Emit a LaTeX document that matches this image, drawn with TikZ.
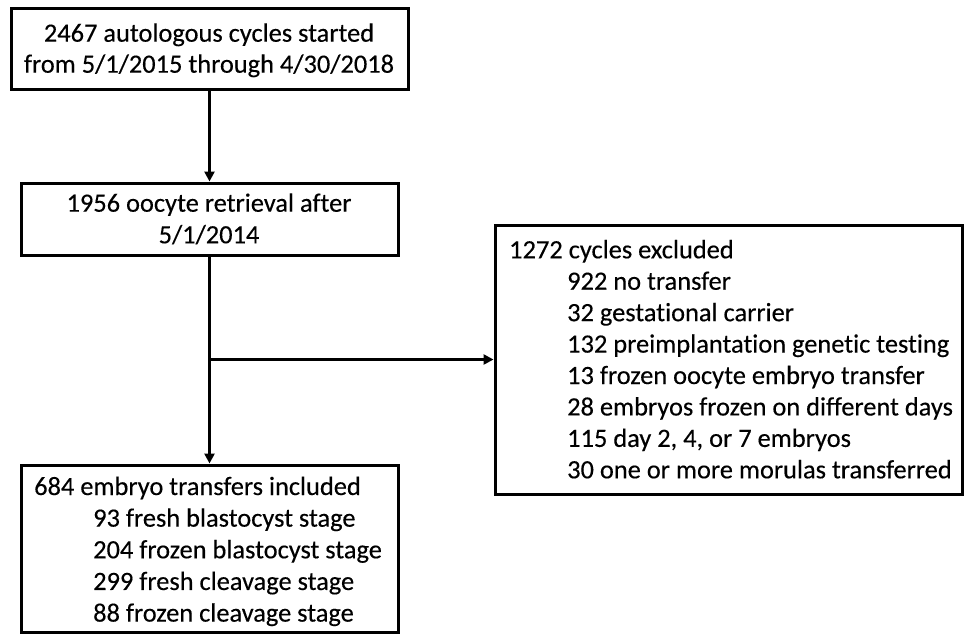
\documentclass[tikz,border=0pt]{standalone}
\usepackage{fontspec}
\setmainfont{Carlito}[Ligatures=NoCommon, FakeBold=0.3]
\usetikzlibrary{arrows.meta}
\tikzset{
  box/.style={draw=black, line width=3pt, inner sep=0pt, rectangle},
  conn/.style={line width=3pt, -{Triangle[length=10pt,width=10pt]}},
  txt/.style={inner sep=0pt, font=\fontsize{26.4}{31}\selectfont},
}
\begin{document}
\begin{tikzpicture}[x=1pt,y=-1pt]
\useasboundingbox (0,0) rectangle (964,633);
% boxes
\node[box, minimum width=397pt, minimum height=81pt] (b1) at (209.5,48.5) {};
\node[box, minimum width=377pt, minimum height=72pt] (b2) at (209.5,219) {};
\node[box, minimum width=377pt, minimum height=167pt] (b3) at (209.5,548.5) {};
\node[box, minimum width=467pt, minimum height=269pt] (b4) at (728.5,359.5) {};
% texts
\node[txt, anchor=base] (t1a) at (209,41.7) {2467 autologous cycles started};
\node[txt, anchor=base] (t1b) at (209,72.7) {from 5/1/2015 through 4/30/2018};
\node[txt, anchor=base] (t2a) at (209,211.7) {1956 oocyte retrieval after};
\node[txt, anchor=base] (t2b) at (209,243.3) {5/1/2014};
\node[txt, anchor=base west] (t3h) at (34,495) {684 embryo transfers included};
\foreach \s [count=\i] in {93 fresh blastocyst stage, 204 frozen blastocyst stage, 299 fresh cleavage stage, 88 frozen cleavage stage}
  \node[txt, anchor=base west] (t3\i) at (93,495+31.65*\i) {\s};
\node[txt, anchor=base west] (t4h) at (509,258.3) {1272 cycles excluded};
\foreach \s [count=\i] in {922 no transfer, 32 gestational carrier, 132 preimplantation genetic testing, 13 frozen oocyte embryo transfer, 28 embryos frozen on different days, {115 day 2, 4, or 7 embryos}, 30 one or more morulas transferred}
  \node[txt, anchor=base west] (t4\i) at (567,258.3+31.43*\i) {\s};
% connectors
\coordinate (j) at (b2.south |- b4.west);
\draw[conn] (b1.south) -- (b2.north);
\draw[conn] (b2.south) -- (b3.north);
\draw[conn] (j) -- (b4.west);
\end{tikzpicture}
\end{document}
